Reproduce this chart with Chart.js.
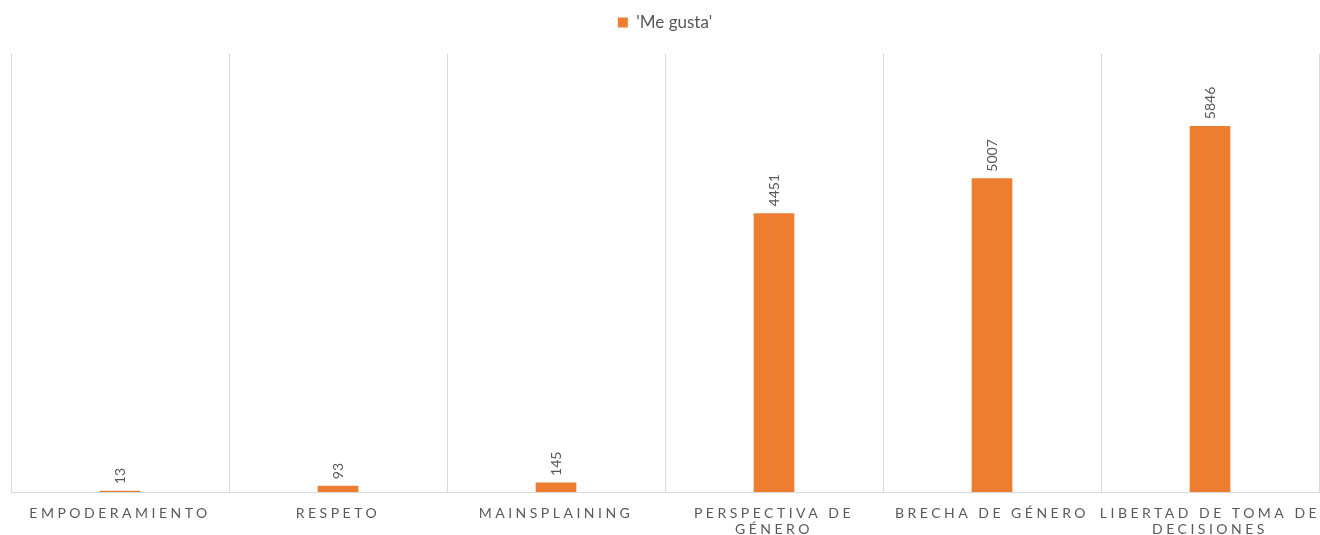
<!DOCTYPE html>
<html>
<head>
<meta charset="utf-8">
<script src="https://cdn.jsdelivr.net/npm/chart.js@4/dist/chart.umd.min.js"></script>
<style>
  html, body { margin: 0; padding: 0; background: #fff; }
  #caja { width: 1320px; height: 535px; }
</style>
</head>
<body>
<div id="caja"><canvas id="grafico"></canvas></div>
<script>
// Datos
const categorias = [
  "EMPODERAMIENTO",
  "RESPETO",
  "MAINSPLAINING",
  ["PERSPECTIVA DE", "GÉNERO"],
  "BRECHA DE GÉNERO",
  ["LIBERTAD DE TOMA DE", "DECISIONES"]
];
const meGusta = [13, 93, 145, 4451, 5007, 5846];
const nombreSerie = "'Me gusta'";

const gris = "#595959";
const naranja = "#ED7D31";

// etiquetas de valor giradas encima de cada barra
const etiquetasValor = {
  id: "etiquetasValor",
  afterDatasetsDraw(chart) {
    const ctx = chart.ctx;
    const meta = chart.getDatasetMeta(0);
    ctx.save();
    ctx.fillStyle = gris;
    ctx.font = "14px Lato";
    ctx.textAlign = "left";
    ctx.textBaseline = "middle";
    meta.data.forEach((barra, i) => {
      ctx.save();
      ctx.translate(barra.x, barra.y - 7);
      ctx.rotate(-Math.PI / 2);
      ctx.fillText(String(meGusta[i]), 0, 0);
      ctx.restore();
    });
    ctx.restore();
  }
};

// espaciado entre letras en el eje x y hueco extra bajo la leyenda
const ajustes = {
  id: "ajustes",
  beforeLayout(chart) {
    const leyenda = chart.legend;
    if (leyenda && !leyenda._conHueco) {
      const fitOriginal = leyenda.fit;
      leyenda.fit = function () {
        fitOriginal.call(this);
        this.height += 13;
      };
      leyenda._conHueco = true;
    }
  },
  beforeDraw(chart) {
    const ejeX = chart.scales.x;
    if (!ejeX || ejeX._conEspaciado) return;
    const original = ejeX.drawLabels;
    ejeX.drawLabels = function (area) {
      const ctx = this.ctx;
      ctx.save();
      ctx.letterSpacing = "3.5px";
      original.call(this, area);
      ctx.restore();
    };
    ejeX._conEspaciado = true;
  }
};

const grafico = new Chart(document.getElementById("grafico"), {
  type: "bar",
  data: {
    labels: categorias,
    datasets: [{
      label: nombreSerie,
      data: meGusta,
      backgroundColor: naranja,
      borderWidth: 0,
      barThickness: 40
    }]
  },
  options: {
    responsive: true,
    maintainAspectRatio: false,
    animation: false,
    layout: { padding: { left: 11, right: 1, top: 2, bottom: 0 } },
    scales: {
      x: {
        grid: { display: true, offset: true, color: "#d9d9d9", drawTicks: false },
        border: { color: "#d9d9d9" },
        ticks: {
          color: gris,
          font: { family: "Lato", size: 14, lineHeight: 1.15 },
          padding: 13,
          maxRotation: 0,
          autoSkip: false
        },
        afterFit(eje) {
          eje.height = 43;
        }
      },
      y: {
        display: false,
        min: 0,
        max: 7000
      }
    },
    plugins: {
      legend: {
        position: "top",
        labels: {
          color: gris,
          font: { family: "Lato", size: 17 },
          boxWidth: 10,
          boxHeight: 10,
          padding: 12
        }
      },
      tooltip: { enabled: false }
    }
  },
  plugins: [etiquetasValor, ajustes]
});
</script>
</body>
</html>
